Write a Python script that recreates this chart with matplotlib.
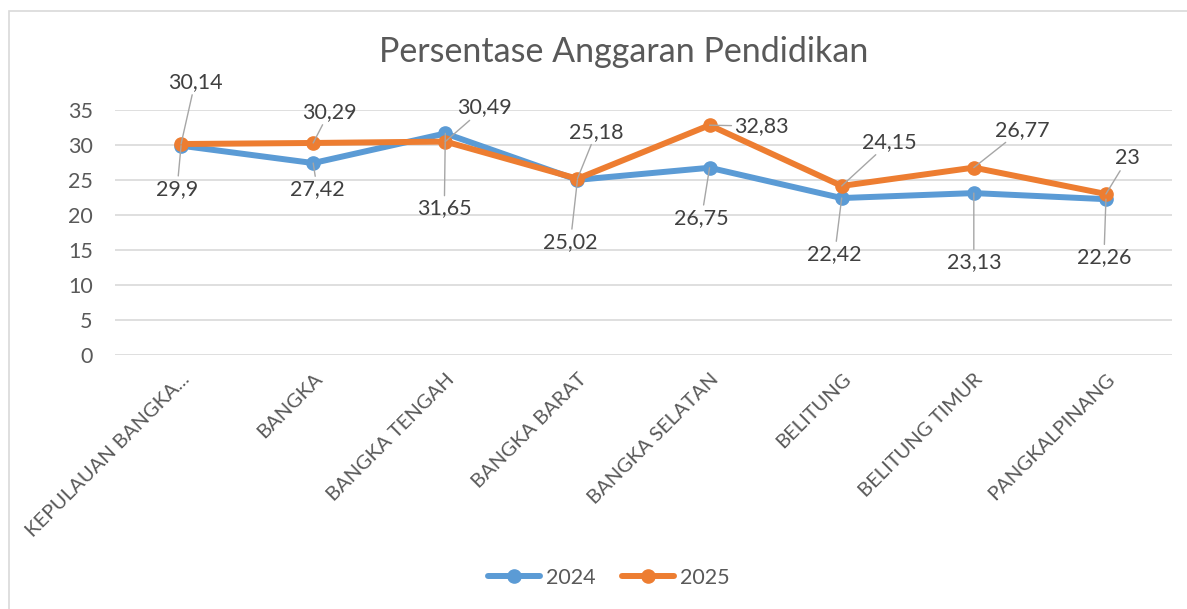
import matplotlib
matplotlib.use("Agg")
import matplotlib.pyplot as plt
from matplotlib.patches import Rectangle

# data
regions = ["KEPULAUAN BANGKA...", "BANGKA", "BANGKA TENGAH", "BANGKA BARAT",
           "BANGKA SELATAN", "BELITUNG", "BELITUNG TIMUR", "PANGKALPINANG"]
val_2024 = [29.9, 27.42, 31.65, 25.02, 26.75, 22.42, 23.13, 22.26]
val_2025 = [30.14, 30.29, 30.49, 25.18, 32.83, 24.15, 26.77, 23.0]
label_2024 = ["29,9", "27,42", "31,65", "25,02", "26,75", "22,42", "23,13", "22,26"]
label_2025 = ["30,14", "30,29", "30,49", "25,18", "32,83", "24,15", "26,77", "23"]

# label offsets in pixels (dx right, dy down), as placed in the original
off_2024 = [(-4, 43), (4, 26), (-1, 75), (-7, 62), (-8, 50), (-7, 56), (0, 69), (-2, 58)]
off_2025 = [(14, -62), (16, -31), (39, -34), (19, -47), (52, 1), (48, -44), (48, -38), (22, -36)]

plt.rcParams['font.family'] = ['Lato', 'DejaVu Sans']
TXT = '#595959'
BLUE = '#5B9BD5'
ORANGE = '#ED7D31'
FS = 15.5

W, H = 1187, 609
fig = plt.figure(figsize=(W / 100, H / 100), dpi=100)
fig.patches.append(Rectangle((9 / W, -0.1), 1.2, 1 - 11 / H + 0.1, transform=fig.transFigure,
                             fill=False, edgecolor='#D9D9D9', lw=1.2))

ax = fig.add_axes([115 / W, 1 - 355 / H, (1172 - 115) / W, (355 - 110) / H])
x = list(range(len(regions)))

ax.plot(x, val_2024, color=BLUE, lw=4.3, marker='o', ms=9.5, label='2024', zorder=3,
        solid_capstyle='round')
ax.plot(x, val_2025, color=ORANGE, lw=4.3, marker='o', ms=9.5, label='2025', zorder=4,
        solid_capstyle='round')

def px2pt(p):
    return p * 72 / 100

for vals, labs, offs in ((val_2024, label_2024, off_2024), (val_2025, label_2025, off_2025)):
    for i, (v, t, (dx, dy)) in enumerate(zip(vals, labs, offs)):
        ax.annotate(t, (i, v), xytext=(px2pt(dx), -px2pt(dy)), textcoords='offset points',
                    ha='center', va='center', fontsize=FS, color='#404040', zorder=5,
                    arrowprops=dict(arrowstyle='-', color='#A6A6A6', lw=1, shrinkA=0, shrinkB=0))

ax.set_xlim(-0.5, len(regions) - 0.5)
ax.set_ylim(0, 35)
ax.set_yticks(range(0, 36, 5))
ax.grid(axis='y', color='#D9D9D9', lw=1.2)
ax.set_axisbelow(True)
for s in ax.spines.values():
    s.set_visible(False)
ax.tick_params(axis='both', length=0, labelsize=FS, labelcolor=TXT)
ax.tick_params(axis='y', pad=16)
ax.set_xticks(x)
ax.set_xticklabels(regions, rotation=45, ha='right', va='top', rotation_mode='anchor',
                   fontsize=14.5)
ax.tick_params(axis='x', pad=11)
for lab in ax.get_xticklabels():
    lab.set_x(lab.get_position()[0])

fig.text(624 / W, 1 - 52 / H, "Persentase Anggaran Pendidikan", ha='center', va='center',
         fontsize=24.5, color=TXT)

fig.legend(loc='center', bbox_to_anchor=(609 / W, 1 - 578 / H), ncol=2, frameon=False,
           fontsize=FS, labelcolor=TXT, handlelength=2.4, columnspacing=1.2, handletextpad=0.3)

fig.savefig('out.png', dpi=100)
